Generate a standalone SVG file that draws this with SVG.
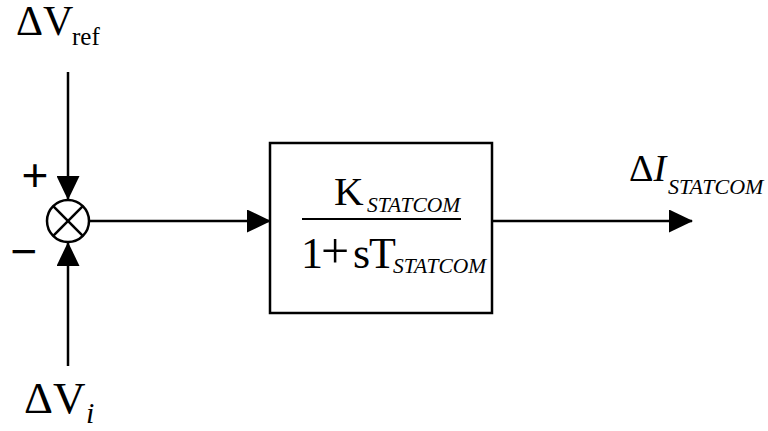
<svg xmlns="http://www.w3.org/2000/svg" width="768" height="431" viewBox="0 0 768 431">
<style>
  .t { font-family: "Liberation Serif", "Times New Roman", serif; fill: #000; }
  .s { font-family: "Liberation Sans", Arial, sans-serif; fill: #000; }
  .it { font-style: italic; }
  .ln { stroke: #000; stroke-width: 2.5; fill: none; }
</style>
<defs>
  <marker id="ah" markerUnits="userSpaceOnUse" markerWidth="24" markerHeight="23" refX="23" refY="11.5" orient="auto">
    <path d="M0,0 L24,11.5 L0,23 z" fill="#000"/>
  </marker>
</defs>
<rect width="768" height="431" fill="#fff"/>

<g id="connectors">
  <line class="ln" x1="68" y1="72" x2="68" y2="199" marker-end="url(#ah)"/>
  <line class="ln" x1="68" y1="366" x2="68" y2="243" marker-end="url(#ah)"/>
  <line class="ln" x1="90" y1="221" x2="270" y2="221" marker-end="url(#ah)"/>
  <line class="ln" x1="492" y1="221" x2="692" y2="221" marker-end="url(#ah)"/>
</g>

<g id="sum">
  <circle class="ln" cx="68" cy="221" r="21"/>
  <line class="ln" x1="53.2" y1="206.2" x2="82.8" y2="235.8"/>
  <line class="ln" x1="82.8" y1="206.2" x2="53.2" y2="235.8"/>
  <text class="s" x="35" y="191" font-size="46" text-anchor="middle">+</text>
  <text class="s" x="24" y="267" font-size="46" text-anchor="middle">−</text>
</g>

<g id="block">
  <rect class="ln" x="270" y="143" width="222" height="170"/>
  <text class="t" x="334" y="205" font-size="41">K</text>
  <text class="t it" x="367" y="212" font-size="21.5">STATCOM</text>
  <line x1="302" y1="219" x2="461" y2="219" stroke="#000" stroke-width="2"/>
  <text class="t" y="268" font-size="44"><tspan x="301">1</tspan><tspan x="321" font-size="50">+</tspan><tspan x="353">s</tspan><tspan x="369">T</tspan></text>
  <text class="t it" x="393" y="273" font-size="21.5">STATCOM</text>
</g>

<g id="vref">
  <text class="t" x="16" y="35" font-size="42">ΔV</text>
  <text class="t" x="72" y="45" font-size="25">ref</text>
</g>

<g id="vi">
  <text class="t" x="24" y="413" font-size="45">ΔV</text>
  <text class="t it" x="86" y="423" font-size="30">i</text>
</g>

<g id="istatcom">
  <text class="t" x="629" y="181" font-size="38">Δ<tspan class="it">I</tspan></text>
  <text class="t it" x="668" y="194" font-size="22">STATCOM</text>
</g>
</svg>
